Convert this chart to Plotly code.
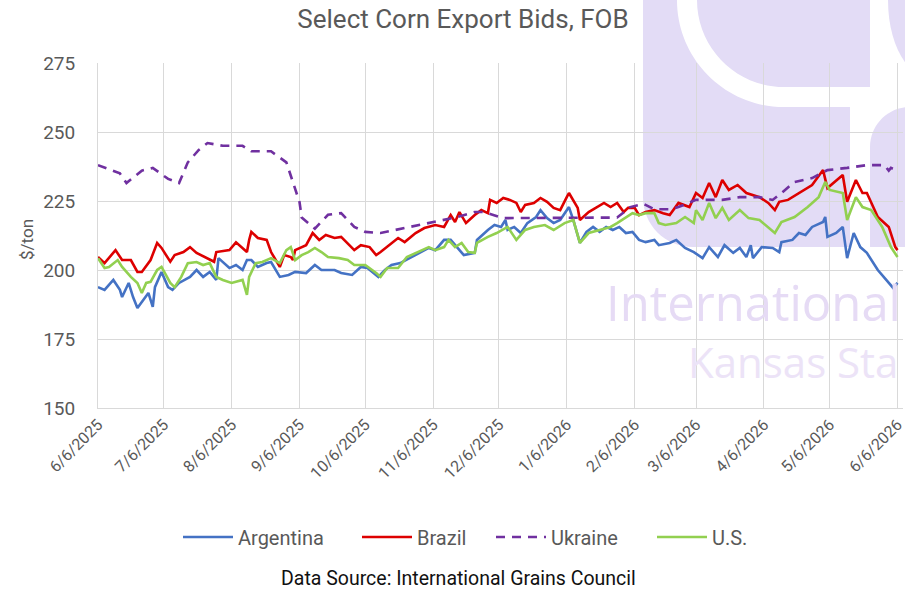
import pandas as pd
import plotly.graph_objects as go

START = "2025-06-06"

# ---- data (day offsets from 6/6/2025, $/ton) ----
arg_days = [0, 3, 7, 10, 11, 14, 16, 18, 20, 23, 25, 26, 29, 32, 34, 37, 42, 45, 48, 51, 54, 55, 60, 63, 66, 68, 70, 73, 77, 79,
            83, 87, 90, 95, 99, 102, 108, 111, 116, 120, 123, 128, 131, 134, 138, 143, 147, 151, 154, 158, 161, 164, 167, 172,
            173, 178, 181, 184, 186, 187, 190, 193, 196, 200, 202, 205, 208, 211, 215, 217, 220, 223, 226, 229, 232, 235, 238,
            241, 244, 247, 250, 254, 256, 261, 264, 268, 272, 276, 279, 283, 286, 290, 293, 296, 298, 299, 303, 308, 311, 312,
            317, 320, 323, 326, 331, 332, 333, 337, 340, 342, 345, 348, 351, 356, 361, 363, 365]
arg_vals = [193.8, 192.8, 196.4, 192.8, 190.2, 195.3, 190.2, 186.2, 188.4, 191.7, 186.6, 193.8, 199.3, 193.8, 192.8, 195.3,
            197.5, 200.0, 197.5, 199.3, 196.4, 204.3, 200.7, 201.8, 200.0, 203.6, 203.6, 201.1, 202.5, 202.9, 197.5, 198.2,
            199.3, 198.9, 201.8, 200.0, 200.0, 198.9, 198.2, 201.1, 200.7, 197.5, 200.0, 201.8, 202.5, 204.7, 206.2, 208.0,
            207.2, 210.9, 210.9, 208.3, 205.4, 206.2, 210.9, 214.5, 216.3, 215.6, 218.1, 214.5, 215.6, 213.4, 217.0, 219.2,
            221.7, 218.8, 217.0, 218.1, 222.8, 218.1, 209.8, 213.8, 215.6, 213.8, 215.6, 214.5, 215.6, 213.4, 213.8, 210.9,
            210.1, 210.9, 209.0, 209.8, 210.9, 208.0, 206.5, 204.3, 208.3, 204.7, 209.0, 206.2, 208.0, 204.7, 209.0, 204.3,
            208.3, 208.0, 206.5, 210.1, 210.9, 213.4, 212.7, 215.6, 217.4, 219.2, 212.0, 213.4, 215.6, 204.3, 213.4, 208.3,
            206.2, 200.0, 195.3, 193.5, 195.3]

bra_days = [0, 3, 8, 11, 15, 18, 20, 24, 27, 29, 33, 35, 39, 42, 45, 49, 53, 54, 60, 63, 68, 69, 70, 73, 77, 79, 83, 85, 88,
            89, 90, 95, 98, 101, 104, 108, 111, 117, 120, 124, 127, 129, 132, 137, 140, 145, 149, 154, 158, 161, 163, 165, 168,
            172, 175, 178, 179, 182, 185, 188, 191, 193, 195, 199, 202, 205, 208, 211, 214, 215, 219, 220, 224, 231, 234, 237,
            240, 242, 245, 247, 250, 254, 258, 261, 265, 270, 273, 276, 279, 282, 285, 288, 292, 296, 302, 306, 309, 311, 315,
            321, 326, 331, 333, 340, 342, 346, 349, 351, 356, 361, 364, 365]
bra_vals = [204.7, 202.5, 207.2, 203.6, 203.6, 199.3, 199.3, 203.6, 209.8, 208.0, 203.0, 205.4, 206.5, 208.3, 206.2, 204.7,
            203.0, 206.5, 207.2, 210.0, 206.5, 210.9, 213.8, 211.6, 210.9, 206.5, 201.1, 205.4, 204.7, 203.6, 207.2, 209.0,
            213.4, 210.9, 212.7, 211.6, 212.0, 207.2, 209.0, 208.3, 205.4, 206.5, 208.3, 211.6, 210.1, 213.4, 215.2, 216.3,
            215.6, 219.9, 217.4, 221.0, 217.0, 219.9, 221.7, 220.6, 225.4, 224.3, 226.1, 225.4, 224.3, 221.0, 223.6, 224.3,
            226.1, 224.7, 222.5, 221.7, 226.4, 227.9, 222.5, 218.1, 221.0, 224.3, 222.8, 224.3, 221.0, 222.5, 222.5, 219.9,
            221.0, 221.7, 220.6, 219.9, 224.3, 222.8, 227.9, 226.1, 231.5, 226.4, 232.6, 229.0, 230.8, 227.9, 226.4, 224.3,
            221.7, 224.7, 225.4, 228.3, 230.8, 236.2, 229.7, 234.4, 224.7, 232.6, 227.9, 227.9, 219.2, 215.6, 208.3, 207.2]

ukr_days = [0, 10, 13, 20, 25, 32, 37, 41, 46, 50, 57, 66, 70, 79, 86, 89, 92, 93, 99, 105, 111, 117, 122, 129, 143, 154,
            163, 172, 176, 185, 193, 206, 219, 231, 237, 243, 249, 254, 261, 265, 273, 285, 293, 302, 308, 312, 318, 326, 333,
            342, 351, 359, 361, 362, 365]
ukr_vals = [238.0, 235.0, 231.5, 236.0, 237.0, 233.0, 231.5, 239.0, 243.5, 246.0, 245.0, 245.0, 243.0, 243.0, 239.0, 231.5,
            224.6, 219.0, 215.0, 220.0, 220.6, 215.6, 213.8, 213.4, 215.6, 217.4, 219.0, 221.0, 221.0, 218.8, 218.8, 218.8,
            218.8, 218.8, 219.0, 222.8, 224.0, 222.0, 222.0, 222.8, 225.4, 225.4, 226.4, 226.4, 225.4, 227.9, 231.9, 233.3,
            236.2, 237.0, 238.0, 238.0, 236.0, 237.0, 236.0]

us_days = [0, 3, 5, 9, 11, 15, 18, 20, 22, 24, 27, 29, 31, 33, 35, 38, 41, 45, 48, 51, 54, 57, 61, 66, 68, 69, 72, 75, 79, 83,
           86, 88, 90, 93, 96, 99, 102, 105, 110, 114, 117, 122, 127, 129, 132, 137, 141, 146, 151, 154, 158, 160, 163, 166,
           169, 172, 173, 178, 182, 187, 191, 195, 199, 204, 208, 213, 217, 220, 224, 229, 234, 237, 241, 244, 247, 250, 254,
           256, 259, 264, 268, 272, 273, 276, 279, 282, 285, 288, 293, 297, 302, 306, 309, 312, 318, 324, 329, 332, 334, 340,
           342, 346, 349, 353, 358, 362, 365]
us_vals = [204.3, 200.7, 201.1, 203.6, 201.1, 197.5, 195.3, 191.7, 195.3, 195.7, 200.0, 201.1, 198.2, 195.3, 193.8, 197.5,
           202.5, 202.9, 201.8, 202.5, 197.5, 196.4, 195.3, 196.4, 191.0, 197.5, 202.5, 202.9, 204.3, 202.5, 207.2, 208.3,
           203.6, 205.4, 206.5, 208.0, 206.5, 204.7, 204.3, 203.6, 201.8, 201.8, 198.9, 197.5, 200.7, 200.7, 204.7, 206.5,
           208.3, 207.2, 208.3, 210.9, 208.3, 209.8, 206.5, 206.2, 209.8, 212.0, 213.4, 215.6, 210.9, 214.5, 215.6, 216.3,
           214.5, 217.0, 218.1, 209.8, 213.4, 214.5, 215.6, 217.0, 219.2, 220.6, 219.9, 220.6, 220.6, 217.0, 216.3, 217.0,
           219.2, 217.0, 221.7, 218.1, 224.3, 218.8, 222.5, 218.1, 221.7, 218.8, 218.1, 215.6, 213.4, 217.4, 219.2, 222.8,
           226.4, 231.9, 229.0, 227.9, 218.1, 226.4, 222.8, 221.7, 215.6, 208.3, 204.7]

series_names = ["Argentina", "Brazil", "Ukraine", "U.S."]
series_colors = ["#4472C4", "#DD0000", "#7030A0", "#92D050"]
y_ticks = [150, 175, 200, 225, 250, 275]

start = pd.Timestamp(START)
def to_dates(days):
    return [start + pd.Timedelta(days=d) for d in days]

tick_dates = [(start + pd.DateOffset(months=m)).strftime("%Y-%m-%d") for m in range(13)]
tick_text = [f"{d.month}/{d.day}/{d.year}" for d in pd.to_datetime(tick_dates)]

legend_ids = ["legend", "legend2", "legend3", "legend4"]
legend_x = [183, 362, 496, 657]   # pixel start of each legend entry

fig = go.Figure()
for name, days, vals, col, lid in zip(series_names,
                                      [arg_days, bra_days, ukr_days, us_days],
                                      [arg_vals, bra_vals, ukr_vals, us_vals],
                                      series_colors, legend_ids):
    fig.add_trace(go.Scatter(
        x=to_dates(days), y=vals, name=name, mode="lines", legend=lid,
        line=dict(color=col, width=2.6, dash="9px,7px" if name == "Ukraine" else "solid"),
    ))

# ---- layout geometry (pixels) ----
W, H = 905, 590
L, R, T, B = 98, 2, 63, 182
pw, ph = W - L - R, H - T - B

def px(x):
    return (x - L) / pw

def py(y):
    return (H - B - y) / ph

def path(cmds):
    out = []
    for c in cmds:
        if isinstance(c, str):
            out.append(c)
        else:
            out.append(f"{px(c[0]):.5f},{py(c[1]):.5f}")
    return " ".join(out)

LAV = "#E3DCF6"
shapes = [
    dict(type="path", xref="paper", yref="paper", layer="below", line=dict(width=0), fillcolor=LAV,
         path=path(["M", (643, -5), "L", (870, -5), "L", (870, 87), "L", (850, 87), "L", (850, 247), "L", (693, 247),
                    "C", (665, 247), (643, 225), (643, 197), "Z"])),
    dict(type="path", xref="paper", yref="paper", layer="below", line=dict(width=0), fillcolor="white",
         path=path(["M", (677, -5), "L", (677, 0), "C", (677, 59), (725, 107), (784, 107), "L", (850, 107), "L", (850, 87),
                    "L", (784, 87), "C", (736, 87), (697, 48), (697, 0), "L", (697, -5), "Z"])),
    dict(type="path", xref="paper", yref="paper", layer="below", line=dict(width=0), fillcolor=LAV,
         path=path(["M", (870, 247), "L", (870, 147), "C", (870, 125), (888, 107), (910, 107), "L", (910, 247), "Z"])),
    dict(type="path", xref="paper", yref="paper", layer="below", line=dict(width=0), fillcolor=LAV,
         path=path(["M", (888, -5), "L", (888, 0), "C", (888, 30), (897, 55), (910, 68), "L", (910, -5), "Z"])),
]

GRAY = "#595959"
GRID = "#D9D9D9"
annotations = [
    dict(text="International", x=604, y=302, xanchor="left", yanchor="middle",
         showarrow=False, font=dict(family="Open Sans", size=49, color="#E6DBF5")),
    dict(text="Kansas Sta", x=686, y=361, xanchor="left", yanchor="middle",
         showarrow=False, font=dict(family="Open Sans", size=42, color="#ECE3F7")),
    dict(text="$/ton", x=27, y=240, textangle=-90, xanchor="center", yanchor="middle", showarrow=False,
         font=dict(family="Roboto", size=17, color=GRAY)),
    dict(text="Data Source: International Grains Council", x=458, y=578, xanchor="center", yanchor="middle",
         showarrow=False, font=dict(family="Roboto", size=19.5, color="#111111")),
]
# convert pixel-placed annotations to paper coordinates
for a in annotations:
    a["x"] = px(a["x"])
    a["y"] = py(a["y"])
    a["xref"] = "paper"
    a["yref"] = "paper"

legend_style = dict(orientation="h", xref="container", yref="container", xanchor="left",
                    y=1 - 537 / H, yanchor="middle", font=dict(family="Roboto", size=20, color=GRAY),
                    bgcolor="rgba(0,0,0,0)", itemwidth=50)
legends = {lid: dict(legend_style, x=(lx - 5) / W) for lid, lx in zip(legend_ids, legend_x)}

fig.update_layout(
    width=W, height=H,
    margin=dict(l=L, r=R, t=T, b=B, autoexpand=False),
    paper_bgcolor="white", plot_bgcolor="rgba(0,0,0,0)",
    title=dict(text="Select Corn Export Bids, FOB", x=463 / W, xanchor="center", y=1 - 19 / H, yanchor="middle",
               font=dict(family="Roboto", size=26, color=GRAY)),
    font=dict(family="Roboto", color=GRAY),
    showlegend=True,
    shapes=shapes,
    annotations=annotations,
    **legends,
)
fig.update_xaxes(type="date", range=[start, start + pd.DateOffset(months=12) + pd.Timedelta(days=2.5)],
                 tickmode="array", tickvals=tick_dates, ticktext=tick_text, tickangle=-45,
                 ticklabeloverflow="allow", automargin=False,
                 tickfont=dict(family="Roboto", size=16, color=GRAY),
                 showgrid=True, gridcolor=GRID, gridwidth=1, showline=True, linecolor=GRID, linewidth=1,
                 zeroline=False, ticks="")
fig.update_yaxes(range=[150, 275], tickmode="array", tickvals=y_ticks, automargin=False,
                 tickfont=dict(family="Roboto", size=19, color=GRAY),
                 showgrid=True, gridcolor=GRID, gridwidth=1, showline=True, linecolor=GRID, linewidth=1,
                 zeroline=False, ticks="", ticklabelstandoff=18)

fig.write_html("out.html", config={"displayModeBar": False},
               post_script="document.body.style.margin='0';document.body.style.overflow='hidden';")
